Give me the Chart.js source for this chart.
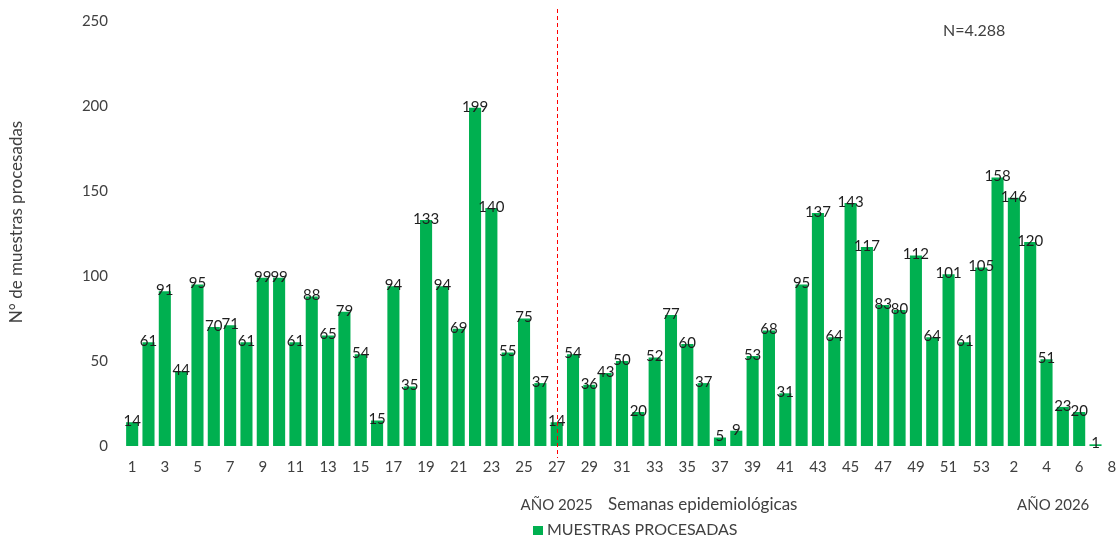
<!DOCTYPE html>
<html>
<head>
<meta charset="utf-8">
<script src="https://cdn.jsdelivr.net/npm/chart.js@4"></script>
<style>
  html, body { margin: 0; padding: 0; background: #fff; overflow: hidden; }
  #clip { width: 1117px; height: 538px; overflow: hidden; }
  #wrap { width: 1120px; height: 538px; }
</style>
</head>
<body>
<div id="clip"><div id="wrap"><canvas id="chart" width="1120" height="538"></canvas></div></div>
<script>
// semanas epidemiológicas: 2025 (1-53) y 2026 (1-8)
const weeks2025 = Array.from({ length: 53 }, (_, i) => String(i + 1));
const weeks2026 = ["1", "2", "3", "4", "5", "6", "7", "8"];
const weeks = weeks2025.concat(weeks2026);

const muestras2025 = [
    14, 61, 91, 44, 95, 70, 71, 61, 99, 99,
    61, 88, 65, 79, 54, 15, 94, 35, 133, 94,
    69, 199, 140, 55, 75, 37, 14, 54, 36, 43,
    50, 20, 52, 77, 60, 37, 5, 9, 53, 68,
    31, 95, 137, 64, 143, 117, 83, 80, 112, 64,
    101, 61, 105
];
const muestras2026 = [158, 146, 120, 51, 23, 20, 1, null];
const muestras = muestras2025.concat(muestras2026);

const yTicks = [0, 50, 100, 150, 200, 250];
const cutWeekIndex = 26; // semana 27 de 2025

const FONT = "Lato, 'Liberation Sans', sans-serif";
const GREEN = "#00B050";
const TEXT = "#404040";

const extras = {
    id: "extras",
    afterDatasetsDraw(chart) {
        const ctx = chart.ctx;
        const x = chart.scales.x;
        const area = chart.chartArea;
        const meta = chart.getDatasetMeta(0);

        // etiquetas de datos
        ctx.save();
        ctx.font = "15px " + FONT;
        ctx.fillStyle = "#1e1e1e";
        ctx.textAlign = "center";
        ctx.textBaseline = "middle";
        meta.data.forEach((bar, i) => {
            const v = muestras[i];
            if (v === null) return;
            ctx.fillText(String(v), bar.x, bar.y - 1);
        });
        ctx.restore();

        // línea de corte
        const cx = Math.round(x.getPixelForValue(cutWeekIndex)) + 0.5;
        ctx.save();
        ctx.strokeStyle = "#FF0000";
        ctx.lineWidth = 1;
        ctx.setLineDash([4, 3]);
        ctx.beginPath();
        ctx.moveTo(cx, 9);
        ctx.lineTo(cx, area.bottom + 12);
        ctx.stroke();
        ctx.restore();

        // textos
        ctx.save();
        ctx.fillStyle = TEXT;
        ctx.textBaseline = "middle";
        ctx.textAlign = "center";
        ctx.font = "15px " + FONT;
        ctx.fillText("AÑO 2025", x.getPixelForValue(cutWeekIndex), 505);
        ctx.fillText("AÑO 2026", x.getPixelForValue(58) - 26, 505);
        ctx.textAlign = "left";
        ctx.font = "17px " + FONT;
        ctx.fillText("Semanas epidemiológicas", 608, 505);
        ctx.font = "16px " + FONT;
        ctx.fillText("N=4.288", 943, 31);

        // título eje y
        ctx.save();
        ctx.translate(17, 222);
        ctx.rotate(-Math.PI / 2);
        ctx.textAlign = "center";
        ctx.font = "17px " + FONT;
        ctx.fillText("N° de muestras procesadas", 0, 0);
        ctx.restore();

        // leyenda
        const ds = chart.data.datasets[0];
        ctx.fillStyle = ds.backgroundColor;
        ctx.fillRect(533, 526, 10, 9);
        ctx.fillStyle = TEXT;
        ctx.font = "16px " + FONT;
        ctx.fillText(ds.label, 547, 530);
        ctx.restore();
    }
};

new Chart(document.getElementById("chart"), {
    type: "bar",
    data: {
        labels: weeks,
        datasets: [{
            label: "MUESTRAS PROCESADAS",
            data: muestras,
            backgroundColor: GREEN,
            borderWidth: 0,
            barPercentage: 0.74,
            categoryPercentage: 1
        }]
    },
    options: {
        responsive: false,
        animation: false,
        layout: { padding: { top: 21, right: 0, bottom: 0, left: 0 } },
        plugins: {
            legend: { display: false },
            tooltip: { enabled: false }
        },
        scales: {
            x: {
                grid: { display: false, drawTicks: false },
                border: { display: false },
                ticks: {
                    autoSkip: false,
                    maxRotation: 0,
                    padding: 12,
                    color: TEXT,
                    font: { family: FONT, size: 15 },
                    callback: (v, i) => (i % 2 === 0 ? weeks[i] : "")
                },
                afterFit: s => { s.height = 92; s.paddingLeft = 0; s.paddingRight = 0; }
            },
            y: {
                min: 0,
                max: 250,
                afterBuildTicks: s => { s.ticks = yTicks.map(v => ({ value: v })); },
                grid: { display: false, drawTicks: false },
                border: { display: false },
                ticks: {
                    padding: 16,
                    color: TEXT,
                    font: { family: FONT, size: 15 }
                },
                afterFit: s => { s.width = 124; s.paddingTop = 0; s.paddingBottom = 0; }
            }
        }
    },
    plugins: [extras]
});
</script>
</body>
</html>
